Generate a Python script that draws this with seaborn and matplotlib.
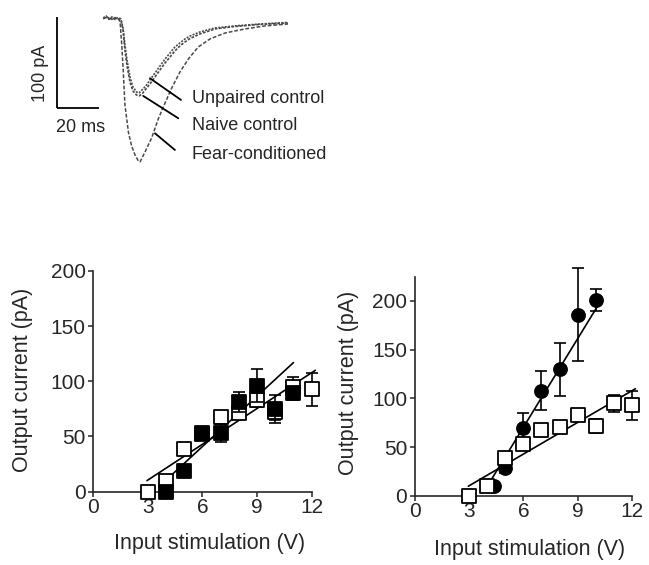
import matplotlib
matplotlib.use("Agg")
import matplotlib.pyplot as plt
import seaborn as sns
import pandas as pd

# ---------------- data ----------------
# current traces (time in ms from trace start, current in pA)
fear_t = [0, 1.3, 2.7, 4.1, 5.6, 7.0, 8.0, 8.8, 9.5, 10.3, 11.1, 12.0, 13.5, 15.1, 16.7, 17.5,
          19.9, 23.0, 26.2, 29.4, 32.6, 36.5, 40.5, 45.2, 50.8, 58.0, 67.5, 77.0, 87.9]
fear_I = [0.5, 1.6, -0.5, 1.6, 0, 1.1, -3.3, -28.4, -56.8, -93.9, -108, -124.5, -138.6, -148.5, -155, -156,
          -145, -130, -109, -91.7, -75.3, -57.9, -43.7, -30.6, -21.8, -15.3, -10.9, -7.6, -5.5]

unpaired_t = [0, 1.3, 2.7, 4.1, 5.6, 7.0, 8.4, 9.4, 10.3, 11.3, 12.7, 14.1, 15.8, 17.0, 18.4, 20.3,
              22.2, 24.6, 27.0, 29.4, 31.8, 34.1, 36.5, 38.9, 41.3, 46.0, 53.2, 62.7, 74.6, 87.9]
unpaired_I = [1.1, 3.3, 0, 2.2, -0.5, 1.6, 0, -9.8, -28.4, -44.8, -63.3, -74.2, -79.7, -80.8, -77.5, -73.1,
              -66.6, -59, -51.3, -43.7, -37.1, -30.6, -26.2, -21.8, -18.6, -14.2, -9.8, -7.6, -5.5, -3.8]

naive_t = [0, 1.3, 2.7, 4.1, 5.6, 7.0, 8.4, 9.4, 10.3, 11.3, 12.7, 14.1, 15.8, 17.0, 18.4, 20.3,
           22.2, 24.6, 27.0, 29.4, 31.8, 34.1, 36.5, 38.9, 41.3, 46.0, 53.2, 62.7, 74.6, 87.9]
naive_I = [0, 2.2, 1.1, -0.5, 1.6, 0, -1.1, -12, -33.8, -51.3, -68.8, -78.6, -83, -84, -82, -76.4,
           -71, -63.3, -55.7, -48, -41.5, -34.9, -29.5, -25.1, -21.3, -16.4, -10.9, -8.2, -6.0, -4.4]

trace_labels = ["Unpaired control", "Naive control", "Fear-conditioned"]
scale_ms = 20
scale_pA = 100

# input-output data
naive_stim = [3, 4, 5, 6, 7, 8, 9, 10, 11, 12]
naive_mean = [0, 10, 39, 53, 68, 71, 83, 72, 95, 93]
naive_sem = [2, 4, 5, 4, 4, 4, 6, 7, 9, 15]

unpaired_stim = [4, 5, 6, 7, 8, 9, 10, 11]
unpaired_mean = [0, 19, 52, 53, 81, 96, 75, 89]
unpaired_sem = [3, 4, 5, 8, 9, 15, 13, 6]

fear_stim = [4.4, 5, 6, 7, 8, 9, 10]
fear_mean = [10, 29, 70, 108, 130, 186, 201]
fear_sem = [3, 5, 15, 20, 27, 48, 11]

# linear fits (end points)
fit_naive_x = [2.95, 12.2]
fit_naive_y = [10, 110]
fit_unpaired_x = [3.8, 11.0]
fit_unpaired_y = [7.5, 117]
fit_fear_x = [4.0, 10.15]
fit_fear_y = [10, 196]

x_ticks = [0, 3, 6, 9, 12]
y_ticks = [0, 50, 100, 150, 200]
x_label = "Input stimulation (V)"
y_label = "Output current (pA)"

# ---------------- style ----------------
sns.set_theme(style="ticks")
plt.rcParams["font.family"] = ["Liberation Sans", "DejaVu Sans"]
plt.rcParams["axes.linewidth"] = 1.2

W, H = 649, 565
fig = plt.figure(figsize=(W / 100, H / 100), dpi=100)


def rect(x0, y0, x1, y1):
    return [x0 / W, 1 - y1 / H, (x1 - x0) / W, (y1 - y0) / H]


# ---------------- top traces ----------------
ax0 = fig.add_axes(rect(30, 0, 340, 180))
ax0.set_xlim(-34.9, 112.7)
ax0.set_ylim(-175.8, 20.7)
ax0.set_axis_off()

trace_col = "#4a4a4a"
sns.lineplot(x=fear_t, y=fear_I, ax=ax0, color=trace_col, lw=1.1,
             linestyle=(0, (2.5, 1.2)), sort=False)
sns.lineplot(x=unpaired_t, y=unpaired_I, ax=ax0, color=trace_col, lw=1.2,
             linestyle=(0, (1.2, 0.8)), sort=False)
sns.lineplot(x=naive_t, y=naive_I, ax=ax0, color=trace_col, lw=1.2,
             linestyle=(0, (1.6, 0.9)), sort=False)

# scale bars
bx, by = -21.9, -97.5
ax0.plot([bx, bx], [by, by + scale_pA], color="black", lw=1.3, solid_capstyle="butt")
ax0.plot([bx, bx + scale_ms], [by, by], color="black", lw=1.3, solid_capstyle="butt")
ax0.text(-30.1, by + scale_pA / 2 - 12, f"{scale_pA} pA", rotation=90, ha="center", va="center", fontsize=13)
ax0.text(bx + scale_ms / 2 + 1, -119, f"{scale_ms} ms", ha="center", va="center", fontsize=13)

# pointer lines + labels
pointers = [((22.2, -64.7), (37.0, -88.4), -87.3),
            ((19.0, -84.0), (35.7, -108.4), -116.8),
            ((24.6, -124.8), (34.1, -143.0), -148.5)]
for (p0, p1, ly), lab in zip(pointers, trace_labels):
    ax0.plot([p0[0], p1[0]], [p0[1], p1[1]], color="black", lw=1.3)
    ax0.text(42.1, ly, lab, ha="left", va="center", fontsize=13)


# ---------------- scatter panels ----------------
def style_axis(ax, ytop, spine_top):
    ax.set_xlim(0, 12.6)
    ax.set_ylim(-12, ytop)
    sns.despine(ax=ax)
    ax.spines["bottom"].set_position(("data", 0))
    ax.spines["bottom"].set_bounds(0, 12)
    ax.spines["left"].set_bounds(0, spine_top)
    ax.set_xticks(x_ticks)
    ax.set_yticks(y_ticks)
    ax.tick_params(axis="both", direction="out", length=3.5, width=1.1, labelsize=15)
    ax.tick_params(axis="x", pad=1)
    ax.tick_params(axis="y", pad=2)
    ax.set_xlabel(x_label, fontsize=15.5, va="center")
    ax.set_ylabel(y_label, fontsize=15.5, va="center")


def draw_group(ax, x, m, e, marker, face, z):
    ax.errorbar(x, m, yerr=e, fmt="none", ecolor="black", elinewidth=1.2,
                capsize=4, capthick=1.2, zorder=z, clip_on=False)
    sns.scatterplot(x=x, y=m, ax=ax, marker=marker, s=88, color=face,
                    edgecolor="black", linewidth=1.3, zorder=z + 0.5, clip_on=False, legend=False)


# left panel: unpaired (filled) vs naive (open)
ax1 = fig.add_axes(rect(93.3, 271, 322.6, 504.9))
sns.lineplot(x=fit_naive_x, y=fit_naive_y, ax=ax1, color="black", lw=1.2, zorder=2)
sns.lineplot(x=fit_unpaired_x, y=fit_unpaired_y, ax=ax1, color="black", lw=1.2, zorder=2)
draw_group(ax1, naive_stim, naive_mean, naive_sem, "s", "white", 3)
draw_group(ax1, unpaired_stim, unpaired_mean, unpaired_sem, "s", "black", 5)
style_axis(ax1, 200, 200)
ax1.yaxis.set_label_coords(-0.307, 0.534)
ax1.xaxis.set_label_coords(0.509, -0.167)

# right panel: fear-conditioned (filled circles) vs naive (open)
ax2 = fig.add_axes(rect(415, 276.6, 642.6, 507.7))
sns.lineplot(x=fit_naive_x, y=fit_naive_y, ax=ax2, color="black", lw=1.2, zorder=2)
sns.lineplot(x=fit_fear_x, y=fit_fear_y, ax=ax2, color="black", lw=1.2, zorder=2)
draw_group(ax2, fear_stim, fear_mean, fear_sem, "o", "black", 3)
draw_group(ax2, naive_stim, naive_mean, naive_sem, "s", "white", 5)
style_axis(ax2, 225, 225)
ax2.yaxis.set_label_coords(-0.294, 0.540)
ax2.xaxis.set_label_coords(0.505, -0.183)

fig.savefig("out.png", dpi=100, facecolor="white")
